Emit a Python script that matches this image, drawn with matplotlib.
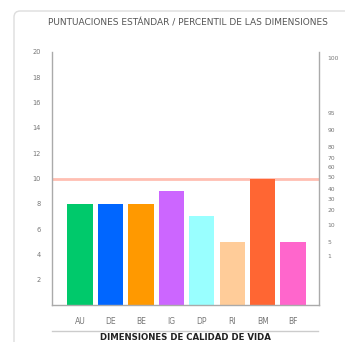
import matplotlib
matplotlib.use("Agg")
import matplotlib.pyplot as plt
from matplotlib.patches import FancyBboxPatch
from matplotlib.lines import Line2D

# Dimension scores (standard scores, 0-20 scale)
dimensions = ["AU", "DE", "BE", "IG", "DP", "RI", "BM", "BF"]
scores = [8, 8, 8, 9, 7, 5, 10, 5]
bar_colors = ["#00C96B", "#0066FF", "#FF9900", "#CC66FF", "#99FFFF",
              "#FFCC99", "#FF6633", "#FF66CC"]
mean_score = 10

# Left axis ticks (standard scores)
score_ticks = [2, 4, 6, 8, 10, 12, 14, 16, 18, 20]
# Right axis: percentile labels and their standard-score equivalents
percentile_labels = ["100", "95", "90", "80", "70", "60", "50", "40", "30",
                     "20", "10", "5", "1"]
percentile_scores = [19.5, 15.2, 13.8, 12.5, 11.6, 10.9, 10.1, 9.2, 8.4,
                     7.5, 6.3, 5.0, 3.9]

W, H = 345, 342
fig = plt.figure(figsize=(W / 100, H / 100), dpi=100)
fig.patch.set_facecolor("white")

# Card frame
card = FancyBboxPatch((14 / W, 1 - 400 / H), 400 / W, 389 / H,
                      boxstyle="round,pad=0,rounding_size=0.018",
                      transform=fig.transFigure, facecolor="none",
                      edgecolor="#DDDDDD", linewidth=1.0, zorder=-5)
fig.patches.append(card)

ax = fig.add_axes([52 / W, 1 - 305 / H, (319 - 52) / W, (305 - 52) / H])
ax.set_facecolor("none")
x = list(range(len(dimensions)))
ax.axhline(mean_score, color="#FFBFB2", linewidth=2.0, zorder=1)
ax.bar(x, scores, width=0.83, color=bar_colors, zorder=2)

ax.set_xlim(-0.92, 7.85)
ax.set_ylim(0, 20)
ax.set_xticks(x)
ax.set_xticklabels(dimensions)
ax.set_yticks(score_ticks)
ax.tick_params(axis="x", length=0, pad=9, labelsize=5.5, labelcolor="#777777")
ax.tick_params(axis="y", length=0, pad=8, labelsize=4.8, labelcolor="#777777")
for side in ["top", "right"]:
    ax.spines[side].set_visible(False)
for side in ["left", "bottom"]:
    ax.spines[side].set_color("#AAAAAA")
    ax.spines[side].set_linewidth(1.0)

ax2 = ax.twinx()
ax2.set_ylim(0, 20)
ax2.set_yticks(percentile_scores)
ax2.set_yticklabels(percentile_labels)
ax2.tick_params(axis="y", length=0, pad=6, labelsize=4.3, labelcolor="#777777")
for side in ["top", "left", "bottom"]:
    ax2.spines[side].set_visible(False)
ax2.spines["right"].set_color("#AAAAAA")
ax2.spines["right"].set_linewidth(1.0)

fig.text(188 / W, 1 - 23 / H,
         "PUNTUACIONES ESTÁNDAR / PERCENTIL DE LAS DIMENSIONES",
         ha="center", va="center", fontsize=6.5, color="#555555")

fig.lines.append(Line2D([52 / W, 318 / W], [1 - 331 / H, 1 - 331 / H],
                        transform=fig.transFigure, color="#CCCCCC",
                        linewidth=1.0))
fig.text(185 / W, 1 - 337.5 / H, "DIMENSIONES DE CALIDAD DE VIDA",
         ha="center", va="center", fontsize=6.2, fontweight="bold",
         color="#222222")

fig.savefig("out.png", dpi=100, facecolor="white")
